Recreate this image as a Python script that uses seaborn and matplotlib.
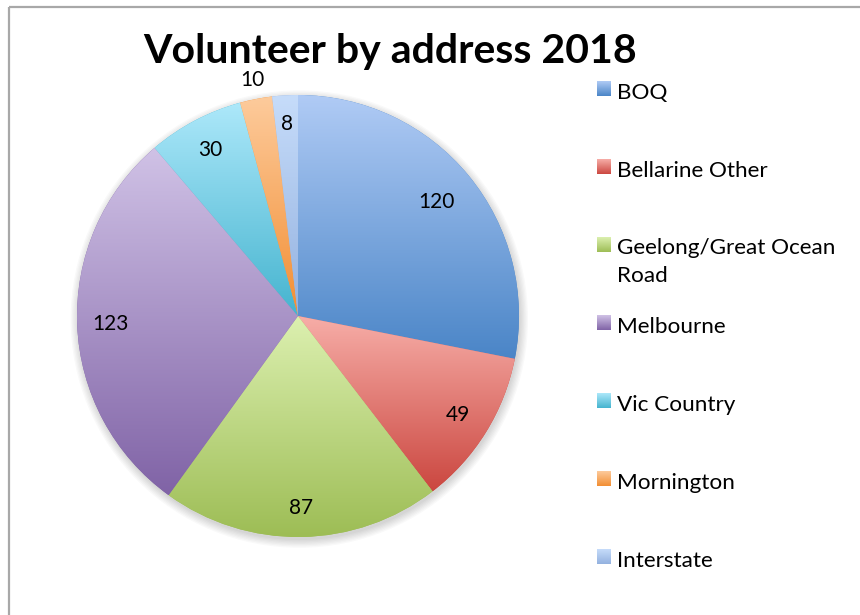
import numpy as np
import matplotlib
matplotlib.use("Agg")
import matplotlib.pyplot as plt
from matplotlib.colors import to_rgb
from matplotlib.patches import Circle
import seaborn as sns

# Data
categories = ["BOQ", "Bellarine Other", "Geelong/Great Ocean\nRoad", "Melbourne",
              "Vic Country", "Mornington", "Interstate"]
volunteers = [120, 49, 87, 123, 30, 10, 8]
title = "Volunteer by address 2018"

# Per-slice vertical gradient (top colour, bottom colour)
top_colors = ["#b0cbf5", "#f7aea8", "#dcf0b0", "#d0c2e6", "#ade8fa", "#fdcb9c", "#c6dcfa"]
bottom_colors = ["#4a85c7", "#cb4740", "#9dbd55", "#8063a6", "#45b4cf", "#f28e33", "#93b1df"]
label_radius = [0.81, 0.85, 0.87, 0.85, 0.85, 1.09, 0.87]

sns.set_theme(style="white")
plt.rcParams["font.family"] = ["Lato", "DejaVu Sans"]

W, H = 860, 615
fig = plt.figure(figsize=(W / 100, H / 100), dpi=100)
fig.patch.set_facecolor("white")


def vgrad(c_top, c_bot, n=256):
    a = np.array(to_rgb(c_top))
    b = np.array(to_rgb(c_bot))
    t = np.linspace(0, 1, n)[:, None]
    return (a * (1 - t) + b * t)[:, None, :]


# Pixel-space overlay for frame, title and legend
ov = fig.add_axes([0, 0, 1, 1])
ov.set_xlim(0, W)
ov.set_ylim(H, 0)
ov.axis("off")
ov.plot([9, 9], [7, H + 5], color="#a8a8a8", lw=1.6, solid_capstyle="butt")
ov.plot([9, W + 5], [7, 7], color="#a8a8a8", lw=1.6, solid_capstyle="butt")
ov.text(390, 51, title, ha="center", va="center", fontsize=29.5, fontweight="bold", color="black")

# Pie
cx, cy, R = 298, 316, 221
pax = fig.add_axes([(cx - R) / W, (H - cy - R) / H, 2 * R / W, 2 * R / H])
pax.axis("off")

for k, r in enumerate(np.linspace(1.0, 1.035, 7)):
    pax.add_patch(Circle((0.006, -0.014), r, facecolor="black", alpha=0.025,
                         lw=0, zorder=0, clip_on=False))

wedges, _ = pax.pie(volunteers, startangle=90, counterclock=False, radius=1,
                    colors=bottom_colors, wedgeprops=dict(linewidth=0))

for w, ct, cb in zip(wedges, top_colors, bottom_colors):
    th = np.deg2rad(np.linspace(w.theta1, w.theta2, 200))
    xs = np.concatenate([[0], w.r * np.cos(th)])
    ys = np.concatenate([[0], w.r * np.sin(th)])
    im = pax.imshow(vgrad(ct, cb), extent=(xs.min(), xs.max(), ys.min(), ys.max()),
                    origin="upper", aspect="auto", interpolation="bilinear", zorder=2)
    im.set_clip_path(w)

for w, v, d in zip(wedges, volunteers, label_radius):
    mid = np.deg2rad((w.theta1 + w.theta2) / 2)
    pax.text(d * np.cos(mid), d * np.sin(mid), str(v), ha="center", va="center",
             fontsize=15, color="black", zorder=5, clip_on=False)

pax.set_xlim(-1, 1)
pax.set_ylim(-1, 1)
pax.set_aspect("equal")

# Legend
for i, (cat, ct, cb) in enumerate(zip(categories, top_colors, bottom_colors)):
    y0 = 82 + 78 * i
    ov.imshow(vgrad(ct, cb), extent=(597, 611, y0 + 14.5, y0), origin="upper",
              aspect="auto", interpolation="bilinear", zorder=3)
    if "\n" in cat:
        ov.text(617, y0 - 0.5, cat, ha="left", va="top", fontsize=16.2,
                color="black", linespacing=1.55)
    else:
        ov.text(617, y0 + 9, cat, ha="left", va="center_baseline",
                fontsize=16.2, color="black")

ov.set_xlim(0, W)
ov.set_ylim(H, 0)

fig.savefig("out.png", dpi=100, facecolor="white")
